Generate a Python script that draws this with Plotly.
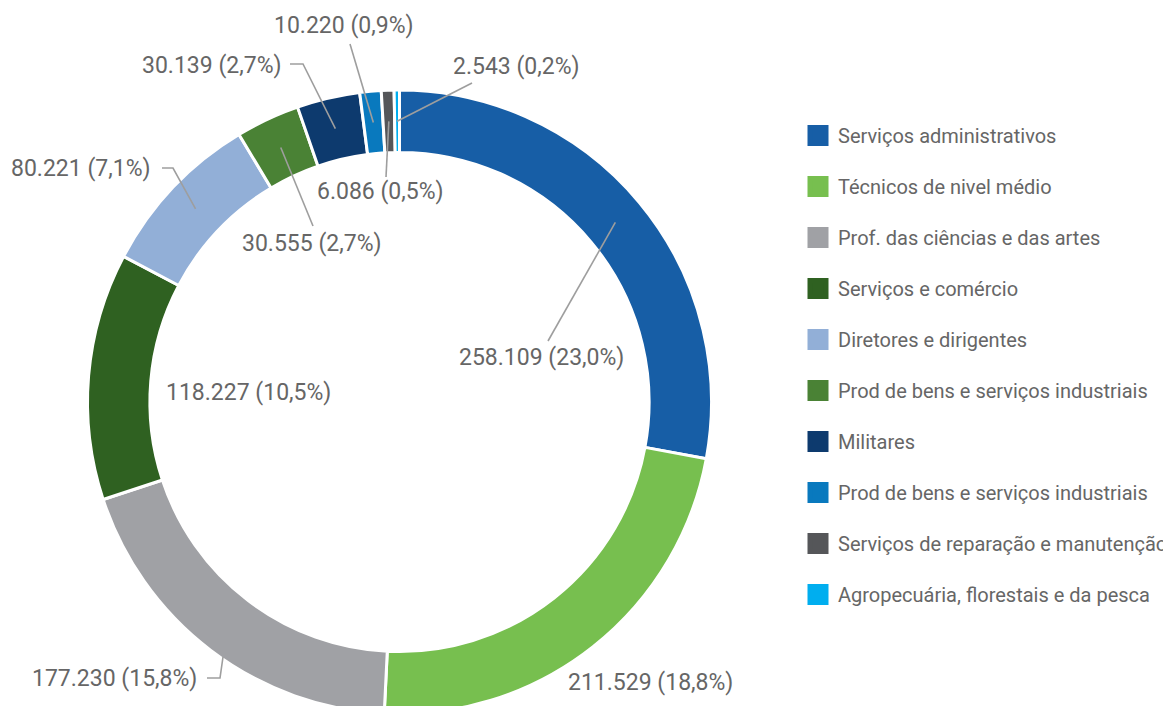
import math
import plotly.graph_objects as go

# ---- data ----
categories = [
    "Serviços administrativos",
    "Técnicos de nivel médio",
    "Prof. das ciências e das artes",
    "Serviços e comércio",
    "Diretores e dirigentes",
    "Prod de bens e serviços industriais",
    "Militares",
    "Prod de bens e serviços industriais ",
    "Serviços de reparação e manutenção",
    "Agropecuária, florestais e da pesca",
]
values = [258109, 211529, 177230, 118227, 80221, 30555, 30139, 10220, 6086, 2543]
percents = ["23,0", "18,8", "15,8", "10,5", "7,1", "2,7", "2,7", "0,9", "0,5", "0,2"]

# ---- style ----
colors = ["#175EA6", "#77BF4F", "#A0A1A5", "#2F6121", "#92AFD7",
          "#4A8235", "#0D3A6E", "#0979BE", "#555659", "#00AEEF"]
W, H = 1180, 706
OFF = 8                       # page offset of the figure inside the html body
CX, CY, R = 399.5, 402, 312   # page pixels
HOLE = 0.80
ANCHOR_R = 0.90 * R
TEXT_COLOR = "#666666"
LINE_COLOR = "#9E9E9E"
FONT = "Roboto, 'Open Sans', sans-serif"

# label centre (page px) and leader: points ("A" = slice anchor)
label_style = [
    dict(pos=(541, 357), path=["A", (548, 341)]),
    dict(pos=(650, 682), path=None),
    dict(pos=(114, 678), path=[(207, 678), (220, 678), (223, 657)]),
    dict(pos=(248, 392), path=None),
    dict(pos=(81, 168), path=[(162, 168), (173, 168), "A"]),
    dict(pos=(312, 243), path=["A", (313, 226)]),
    dict(pos=(212, 65), path=[(290, 64), (303, 64), "A"]),
    dict(pos=(344, 25), path=["A", (350, 44)]),
    dict(pos=(380, 192), path=["A", (386, 177)]),
    dict(pos=(516, 67), path=["A", (472, 83)]),
]


def fmt_thousands(v):
    return f"{v:,}".replace(",", ".")


def px_to_paper(p):
    return (p[0] - OFF) / W, 1 - (p[1] - OFF) / H


fig = go.Figure()

cx_f, cy_f = CX - OFF, CY - OFF
fig.add_trace(go.Pie(
    labels=categories,
    values=values,
    marker=dict(colors=colors, line=dict(color="white", width=3)),
    hole=HOLE,
    sort=False,
    direction="clockwise",
    rotation=0,
    textinfo="none",
    hoverinfo="label+value",
    showlegend=False,
    domain=dict(x=[(cx_f - R) / W, (cx_f + R) / W],
                y=[max(0, (H - cy_f - R) / H), min(1, (H - cy_f + R) / H)]),
))

# legend entries
for i, (c, col) in enumerate(zip(categories, colors)):
    fig.add_trace(go.Scatter(
        x=[None], y=[None], mode="markers", name=c.strip(),
        marker=dict(symbol="square", size=16, color=col, line=dict(color=col, width=5)),
        legendgroup=f"g{i}", showlegend=True, hoverinfo="skip",
    ))

# labels & leader lines computed from data angles
total = sum(values)
cum = 0
shapes = []
annotations = []
for v, pct, st in zip(values, percents, label_style):
    mid = (cum + v / 2) / total
    cum += v
    ang = 2 * math.pi * mid
    anchor = (CX + ANCHOR_R * math.sin(ang), CY - ANCHOR_R * math.cos(ang))
    if st["path"]:
        pts = [anchor if p == "A" else p for p in st["path"]]
        pp = [px_to_paper(p) for p in pts]
        d = "M " + " L ".join(f"{x:.5f},{y:.5f}" for x, y in pp)
        shapes.append(dict(type="path", xref="paper", yref="paper", path=d,
                           line=dict(color=LINE_COLOR, width=1.6)))
    tx, ty = px_to_paper(st["pos"])
    annotations.append(dict(
        x=tx, y=ty, xref="paper", yref="paper", showarrow=False,
        text=f"{fmt_thousands(v)} ({pct}%)", xanchor="center", yanchor="middle",
        font=dict(family=FONT, size=23, color=TEXT_COLOR),
    ))

fig.update_layout(
    width=W, height=H,
    margin=dict(l=0, r=0, t=0, b=0),
    paper_bgcolor="white", plot_bgcolor="white",
    xaxis=dict(visible=False, domain=[0.7, 1]),
    yaxis=dict(visible=False),
    shapes=shapes,
    annotations=annotations,
    legend=dict(
        x=790 / W, y=1 - 108 / H, xanchor="left", yanchor="top",
        font=dict(family=FONT, size=20, color=TEXT_COLOR),
        tracegroupgap=22, bgcolor="rgba(0,0,0,0)",
    ),
    font=dict(family=FONT),
)

fig.write_html("out.html")
